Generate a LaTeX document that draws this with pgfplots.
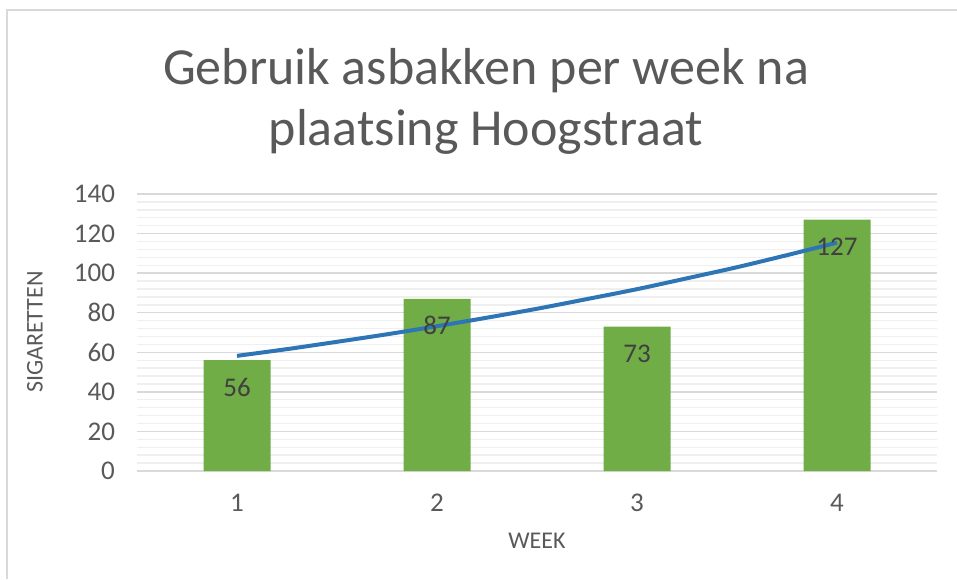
\documentclass[border=0pt]{standalone}
\usepackage{pgfplots}
\pgfplotsset{compat=1.18}
\usepackage{fontspec}
\setmainfont{Carlito}
\definecolor{bargreen}{HTML}{70AD47}
\definecolor{trendblue}{HTML}{2E75B6}
\definecolor{txtgray}{HTML}{595959}
\definecolor{lblgray}{HTML}{404040}
\definecolor{majgrid}{HTML}{D9D9D9}
\definecolor{mingrid}{HTML}{EFEFEF}
\begin{document}
\begin{tikzpicture}
\path[use as bounding box] (0,0) rectangle (478.5pt,289.5pt);
\draw[majgrid, line width=1pt] (3.5pt,0) -- (3.5pt,284.5pt) -- (478.5pt,284.5pt);
\begin{axis}[
  at={(68.5pt,54pt)}, anchor=south west,
  scale only axis, width=400pt, height=138.5pt,
  xmin=0.5, xmax=4.5, ymin=0, ymax=140,
  xtick={1,2,3,4},
  ytick={0,20,...,140},
  minor ytick={0,4,...,140},
  ymajorgrids, yminorgrids,
  major grid style={majgrid, line width=0.7pt},
  minor grid style={mingrid, line width=0.7pt},
  axis line style={draw=none},
  axis x line*=bottom,
  x axis line style={majgrid, line width=0.8pt},
  axis y line*=left,
  y axis line style={draw=none},
  major tick length=0pt, minor tick length=0pt,
  tick style={draw=none},
  ticklabel style={font=\fontsize{13.5}{15}\selectfont, text=txtgray},
  xticklabel style={yshift=-8pt},
  yticklabel style={xshift=-7.5pt},
  /pgf/number format/assume math mode=true,
  clip=false,
]
\addplot[ybar, bar width=33.5pt, fill=bargreen, draw=none,
  nodes near coords,
  nodes near coords style={font=\fontsize{13.5}{15}\selectfont, text=lblgray, anchor=center, yshift=-13.5pt},
  point meta=explicit symbolic]
  coordinates {(1,56)[56] (2,87)[87] (3,73)[73] (4,127)[127]};
\addplot[trendblue, line width=2pt, smooth, no marks]
  coordinates {(1,58.2) (1.25,61.6) (1.5,65.3) (1.75,69.1) (2,73.2) (2.25,77.5) (2.5,82.0) (2.75,86.9) (3,91.9) (3.25,97.4) (3.5,103.0) (3.75,109.1) (4,115.4)};
\end{axis}
\node[text=txtgray, font=\fontsize{26}{30.5}\selectfont, align=center] at (243pt,239pt) {Gebruik asbakken per week na\\plaatsing Hoogstraat};
\node[text=txtgray, font=\fontsize{12}{14}\selectfont, rotate=90] at (17.5pt,123.5pt) {SIGARETTEN};
\node[text=txtgray, font=\fontsize{12}{14}\selectfont] at (268.5pt,19pt) {WEEK};
\end{tikzpicture}
\end{document}
